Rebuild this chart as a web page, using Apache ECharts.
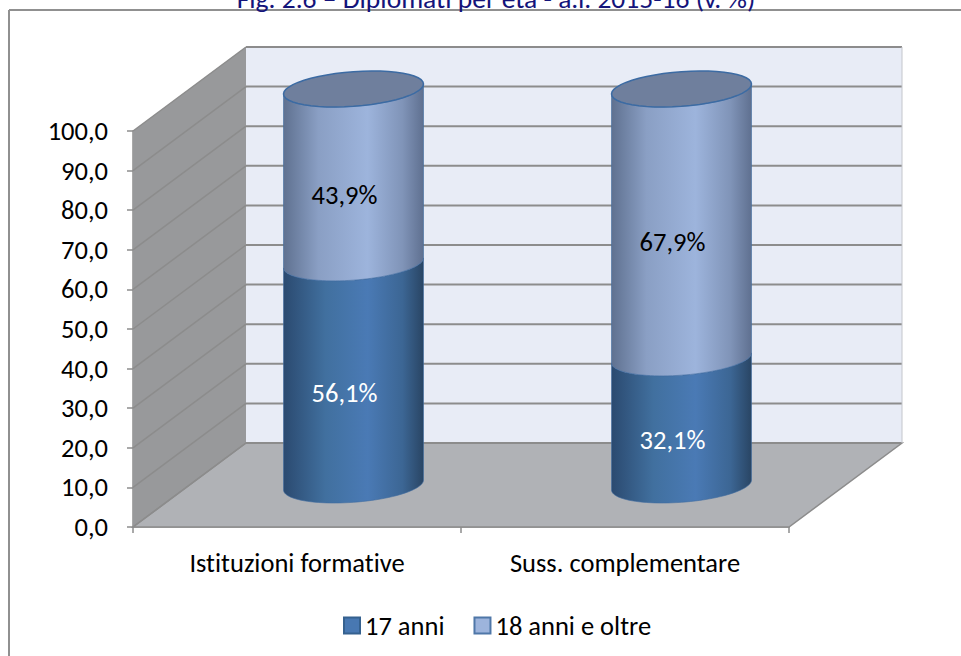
<!DOCTYPE html>
<html>
<head>
<meta charset="utf-8">
<style>
  html, body { margin: 0; padding: 0; background: #fff; overflow: hidden; }
  #chart { width: 961px; height: 656px; }
  #chart text { font-variant-ligatures: none !important; }
</style>
</head>
<body>
<div id="chart"></div>
<script src="https://cdn.jsdelivr.net/npm/echarts@6/dist/echarts.min.js"></script>
<script>
const categories = ['Istituzioni formative', 'Suss. complementare']
const seriesNames = ['17 anni', '18 anni e oltre']
const anni17 = [56.1, 32.1]
const anni18 = [43.9, 67.9]
const yTicks = [0, 10, 20, 30, 40, 50, 60, 70, 80, 90, 100]
const titleText = 'Fig. 2.6 – Diplomati per età - a.f. 2015-16 (v. %)'

const FONT = 'Carlito, Lato, "Open Sans", sans-serif'
const DEPTH_X = 113
const DEPTH_Y = -84

const chart = echarts.init(document.getElementById('chart'), null, { renderer: 'svg' })

// back wall, side wall and floor, drawn from the axis scale
function renderRoom(params, api) {
  const x0 = params.coordSys.x
  const x1 = params.coordSys.x + params.coordSys.width
  const yb = api.coord([0, 0])[1]
  const yt = api.coord([0, 100])[1]
  const children = [
    { type: 'polygon', shape: { points: [[x0 + DEPTH_X, yb + DEPTH_Y], [x1 + DEPTH_X, yb + DEPTH_Y], [x1 + DEPTH_X, yt + DEPTH_Y], [x0 + DEPTH_X, yt + DEPTH_Y]] }, style: { fill: '#e8ecf6' } },
    { type: 'polygon', shape: { points: [[x0, yb], [x0 + DEPTH_X, yb + DEPTH_Y], [x0 + DEPTH_X, yt + DEPTH_Y], [x0, yt]] }, style: { fill: '#98999b' } },
    { type: 'polygon', shape: { points: [[x0, yb], [x1, yb], [x1 + DEPTH_X, yb + DEPTH_Y], [x0 + DEPTH_X, yb + DEPTH_Y]] }, style: { fill: '#b0b2b6', stroke: '#8c8c8c', lineWidth: 1.5 } }
  ]
  yTicks.forEach(t => {
    const y = api.coord([0, t])[1]
    children.push({ type: 'line', shape: { x1: x0, y1: y, x2: x0 + DEPTH_X, y2: y + DEPTH_Y }, style: { stroke: '#8c8c8c', lineWidth: 1.5 } })
    children.push({ type: 'line', shape: { x1: x0 + DEPTH_X, y1: y + DEPTH_Y, x2: x1 + DEPTH_X, y2: y + DEPTH_Y }, style: { stroke: '#8c8c8c', lineWidth: 2 } })
  })
  children.push({ type: 'line', shape: { x1: x1 + DEPTH_X, y1: yb + DEPTH_Y, x2: x1 + DEPTH_X, y2: yt + DEPTH_Y }, style: { stroke: '#c4c6cc', lineWidth: 1 } })
  return { type: 'group', children }
}

function arc(cx, cy, rx, from, to) {
  const pts = []
  for (let i = 0; i <= 48; i++) {
    const t = from + (to - from) * i / 48
    pts.push([cx + rx * Math.cos(t), cy - 5 * Math.cos(t) + 17.3 * Math.sin(t)])
  }
  return pts
}

function barGradient(stops) {
  return new echarts.graphic.LinearGradient(0, 0, 1, 0, stops)
}

const darkStops = [
  { offset: 0, color: '#2b4a70' }, { offset: 0.3, color: '#41709f' }, { offset: 0.6, color: '#4a7ab5' },
  { offset: 0.85, color: '#3c6694' }, { offset: 1, color: '#294564' }
]
const lightStops = [
  { offset: 0, color: '#5f7190' }, { offset: 0.25, color: '#8a9fc4' }, { offset: 0.6, color: '#9db4dc' },
  { offset: 0.85, color: '#8094b8' }, { offset: 1, color: '#5f7090' }
]

function renderCylinder(stops, withTop) {
  return function (params, api) {
    const from = api.value(1)
    const to = api.value(2)
    const rx = api.size([1, 0])[0] * 0.2134
    const c = api.coord([api.value(0), 0])
    const cx = c[0] + DEPTH_X / 2
    const yLow = api.coord([0, from])[1] + DEPTH_Y / 2
    const yHigh = api.coord([0, to])[1] + DEPTH_Y / 2
    const points = arc(cx, yLow, rx, 0, Math.PI).concat(arc(cx, yHigh, rx, Math.PI, 0))
    const children = [{
      type: 'polygon',
      shape: { points },
      style: { fill: barGradient(stops), stroke: '#3f6c9f', lineWidth: 0.6 }
    }]
    if (withTop) {
      children.push({
        type: 'polygon',
        shape: { points: arc(cx, yHigh, rx, 0, Math.PI * 2) },
        style: { fill: '#6f7f9d', stroke: '#3c6ba3', lineWidth: 1.5 }
      })
    }
    // Excel centres the label on the front plane, so it sits lower than the bar middle
    children.push({
      type: 'text',
      style: {
        x: cx - 9, y: (yLow + yHigh) / 2 + 19,
        text: api.value(3).toFixed(1).replace('.', ',') + '%',
        font: '26.5px ' + FONT,
        fill: withTop ? '#000' : '#fff',
        align: 'center', verticalAlign: 'middle'
      }
    })
    return { type: 'group', children }
  }
}

const option = {
  animation: false,
  backgroundColor: '#fff',
  title: {
    text: titleText,
    left: 491, top: -21, textAlign: 'center',
    textStyle: { fontFamily: FONT, fontSize: 27.5, fontWeight: 'normal', color: '#14147a' }
  },
  graphic: [
    { type: 'line', silent: true, z: -1, shape: { x1: 9, y1: 10, x2: 961, y2: 10 }, style: { stroke: '#909090', lineWidth: 2 } },
    { type: 'line', silent: true, z: -1, shape: { x1: 9, y1: 10, x2: 9, y2: 656 }, style: { stroke: '#909090', lineWidth: 2 } }
  ],
  legend: {
    data: seriesNames.map(name => ({ name, icon: 'rect' })),
    left: 338, top: 607,
    itemWidth: 16, itemHeight: 16, itemGap: 29,
    textStyle: { fontFamily: FONT, fontSize: 26.5, color: '#000' }
  },
  grid: { left: 133, right: 172, top: 131, bottom: 129 },
  xAxis: {
    type: 'category',
    data: categories,
    axisLine: { lineStyle: { color: '#8c8c8c', width: 1.5 } },
    axisTick: { show: true, alignWithLabel: false, length: 6, lineStyle: { color: '#8c8c8c', width: 1.5 } },
    axisLabel: { fontFamily: FONT, fontSize: 26.5, color: '#000', margin: 22 }
  },
  yAxis: {
    type: 'value',
    min: 0, max: 100, interval: 10,
    axisLine: { show: true, lineStyle: { color: '#8c8c8c', width: 1.5 } },
    axisTick: { show: true, length: 6, lineStyle: { color: '#8c8c8c', width: 1.5 } },
    axisLabel: { fontFamily: FONT, fontSize: 26.5, color: '#000', margin: 25, formatter: v => v.toFixed(1).replace('.', ',') },
    splitLine: { show: false }
  },
  series: [
    { type: 'custom', silent: true, z: 1, legendHoverLink: false, renderItem: renderRoom, data: [[0, 0]], encode: { x: 0, y: 1 }, tooltip: { show: false } },
    {
      name: seriesNames[0], type: 'custom', z: 2,
      itemStyle: { color: '#4878b2', borderColor: '#35618f', borderWidth: 1 },
      renderItem: renderCylinder(darkStops, false),
      encode: { x: 0, y: [1, 2] },
      data: categories.map((c, i) => [i, 0, anni17[i], anni17[i]])
    },
    {
      name: seriesNames[1], type: 'custom', z: 3,
      itemStyle: { color: '#9db4dc', borderColor: '#4f77a8', borderWidth: 1 },
      renderItem: renderCylinder(lightStops, true),
      encode: { x: 0, y: [1, 2] },
      data: categories.map((c, i) => [i, anni17[i], anni17[i] + anni18[i], anni18[i]])
    }
  ]
}

chart.setOption(option)
</script>
</body>
</html>
